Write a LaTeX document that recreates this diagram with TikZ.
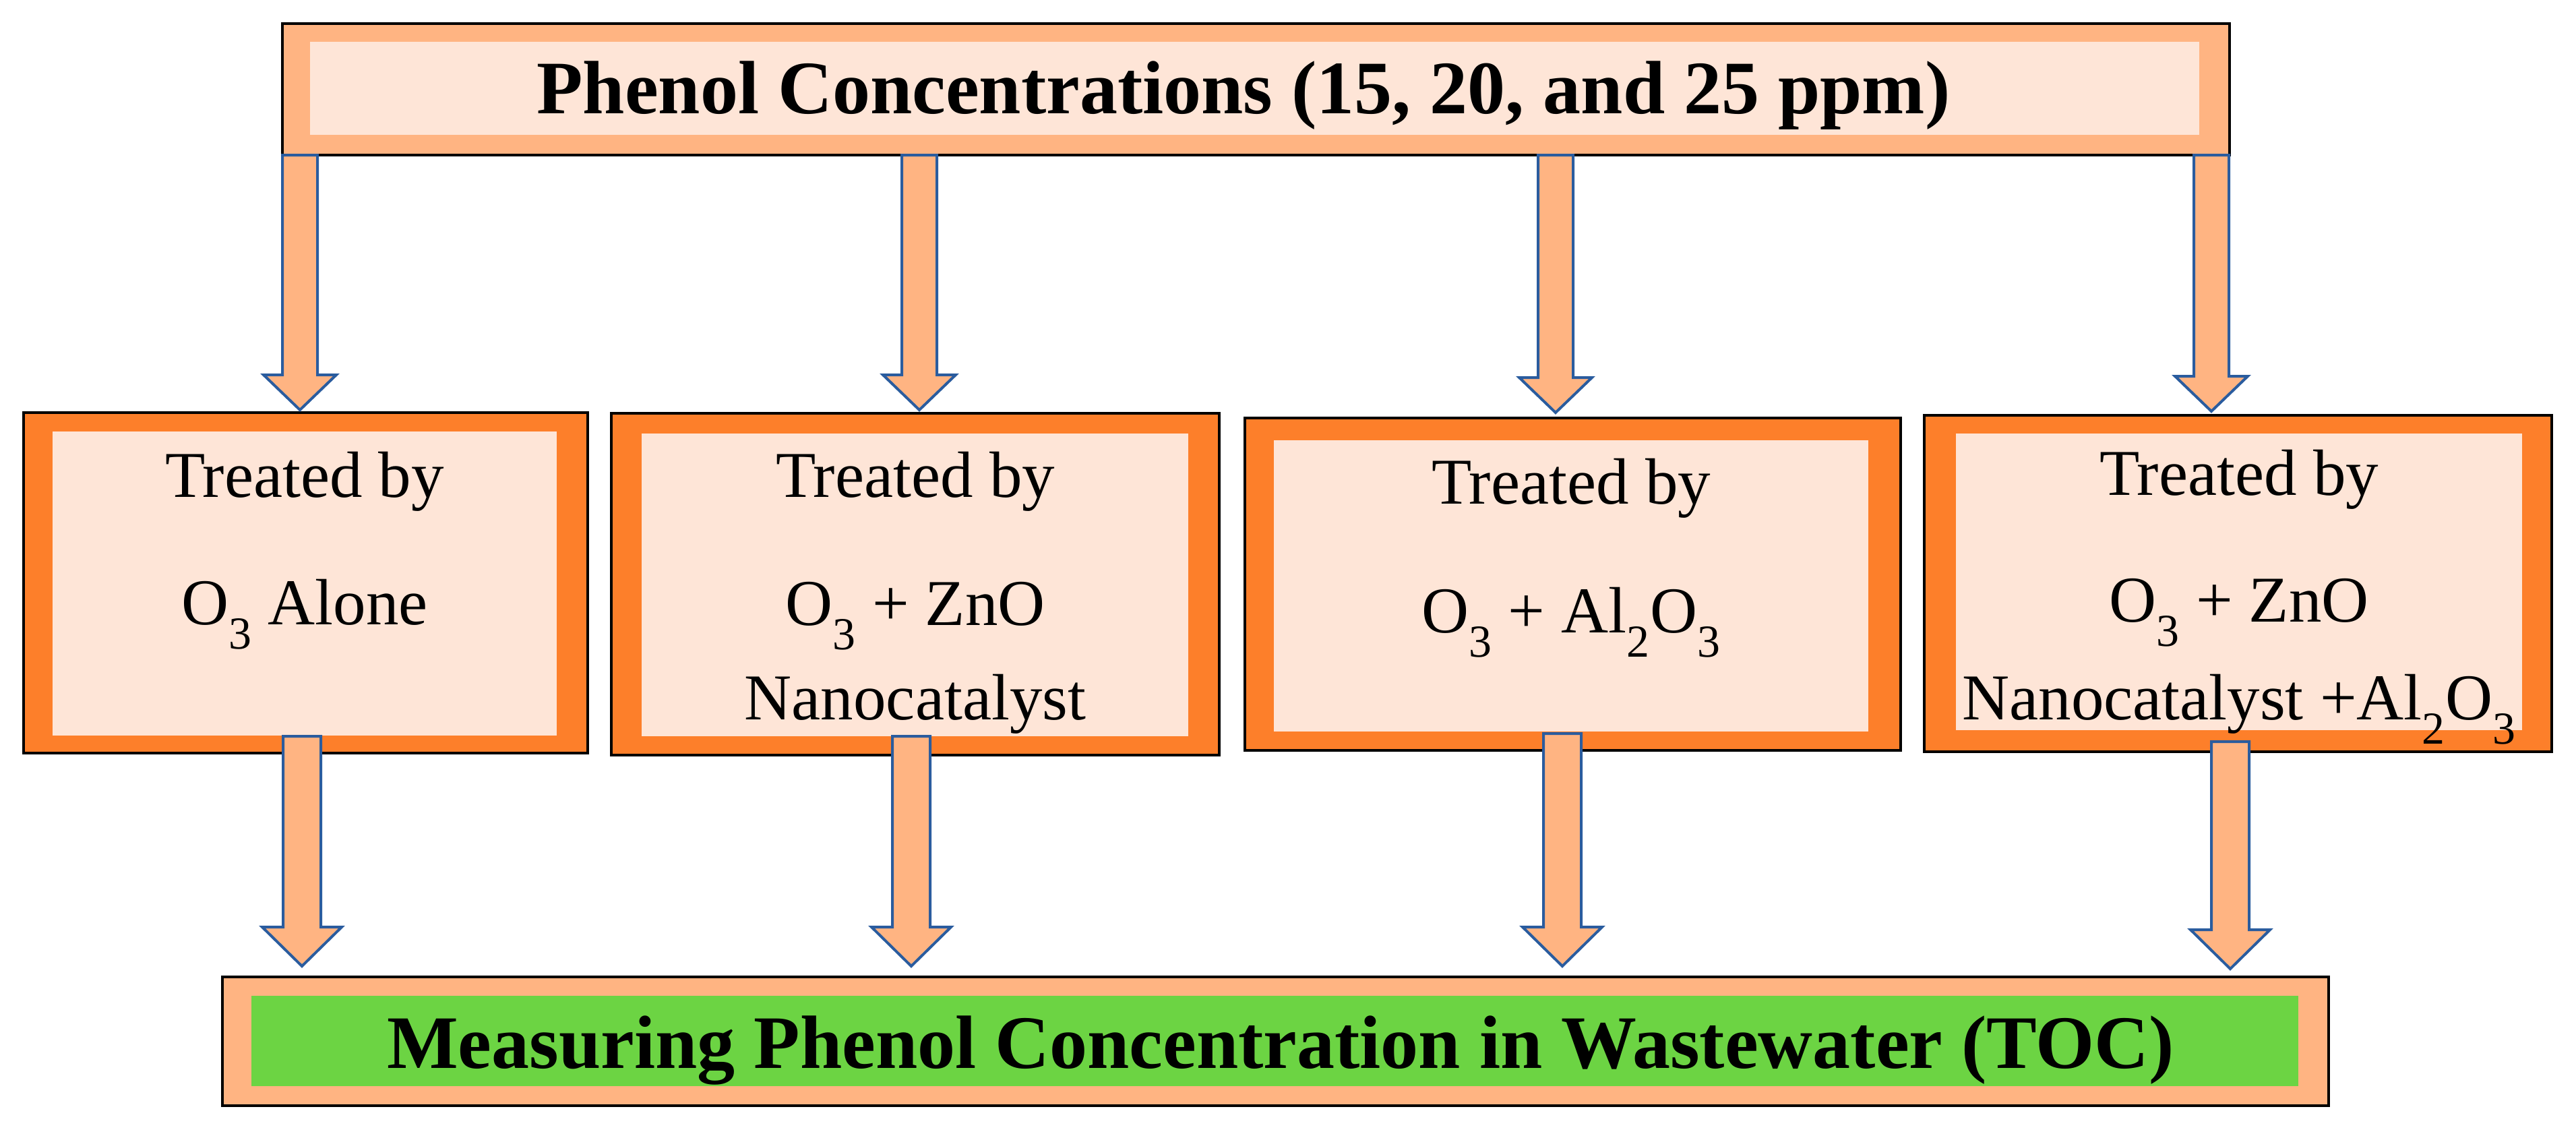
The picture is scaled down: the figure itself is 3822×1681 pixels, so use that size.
\documentclass[tikz,border=0pt]{standalone}
\usepackage{fontspec}
\setmainfont{Liberation Serif}
\definecolor{peach}{HTML}{FFB482}
\definecolor{pale}{HTML}{FEE5D7}
\definecolor{org}{HTML}{FD7F2A}
\definecolor{grn}{HTML}{6CD443}
\definecolor{arb}{HTML}{2A5C9E}
\tikzset{
 outerbox/.style={draw=black,line width=4pt},
 arrowshape/.style={fill=peach,draw=arb,line width=4pt,line join=miter},
 bigtxt/.style={font=\fontsize{112}{120}\selectfont\bfseries,anchor=base},
 midtxt/.style={font=\fontsize{97}{110}\selectfont,anchor=base},
}
\newcommand{\fatarrow}[6]{% x, ytop, ytip, halfstem, halfhead, headlen
 \draw[arrowshape] (#1-#4,#2) -- (#1+#4,#2) -- (#1+#4,#3-#6) -- (#1+#5,#3-#6) -- (#1,#3) -- (#1-#5,#3-#6) -- (#1-#4,#3-#6) -- cycle;}
\begin{document}
\begin{tikzpicture}[x=1pt,y=-1pt]
\useasboundingbox (0,0) rectangle (3822,1681);
% top
\filldraw[outerbox,fill=peach] (419,35) rectangle (3308,230);
\fill[pale] (460,62) rectangle (3263,200);
\node[bigtxt] (top) at (1845,168) {Phenol Concentrations (15, 20, and 25 ppm)};
% boxes
\filldraw[outerbox,fill=org] (35,612) rectangle (872,1117);
\fill[pale] (78,640) rectangle (826,1091);
\filldraw[outerbox,fill=org] (907,613) rectangle (1809,1120);
\fill[pale] (952,643) rectangle (1763,1092);
\filldraw[outerbox,fill=org] (1847,620) rectangle (2820,1113);
\fill[pale] (1890,653) rectangle (2772,1085);
\filldraw[outerbox,fill=org] (2855,616) rectangle (3786,1115);
\fill[pale] (2902,643) rectangle (3742,1083);
% bottom
\filldraw[outerbox,fill=peach] (330,1449) rectangle (3455,1640);
\fill[grn] (373,1477) rectangle (3410,1611);
% arrows top
\fatarrow{445}{230}{608}{26}{54}{52}
\fatarrow{1364}{230}{608}{26}{54}{52}
\fatarrow{2308}{230}{612}{26}{54}{52}
\fatarrow{3281}{230}{610}{26}{54}{52}
% arrows bottom
\fatarrow{448}{1092}{1433}{28}{59}{58}
\fatarrow{1352}{1092}{1433}{28}{59}{58}
\fatarrow{2318}{1088}{1433}{28}{59}{58}
\fatarrow{3309}{1100}{1437}{28}{59}{58}
% texts
\node[midtxt] (t1a) at (452,737) {Treated by};
\node[midtxt] (t1b) at (452,926) {O\textsubscript{3} Alone};
\node[midtxt] (t2a) at (1358,737) {Treated by};
\node[midtxt] (t2b) at (1358,927) {O\textsubscript{3} + ZnO};
\node[midtxt] (t2c) at (1358,1067) {Nanocatalyst};
\node[midtxt] (t3a) at (2331,747) {Treated by};
\node[midtxt] (t3b) at (2331,938) {O\textsubscript{3} + Al\textsubscript{2}O\textsubscript{3}};
\node[midtxt] (t4a) at (3322,734) {Treated by};
\node[midtxt] (t4b) at (3322,922) {O\textsubscript{3} + ZnO};
\node[midtxt] (t4c) at (3322,1067) {Nanocatalyst +Al\textsubscript{2}O\textsubscript{3}};
\node[bigtxt] (bot) at (1900,1584) {Measuring Phenol Concentration in Wastewater (TOC)};
\end{tikzpicture}
\end{document}
